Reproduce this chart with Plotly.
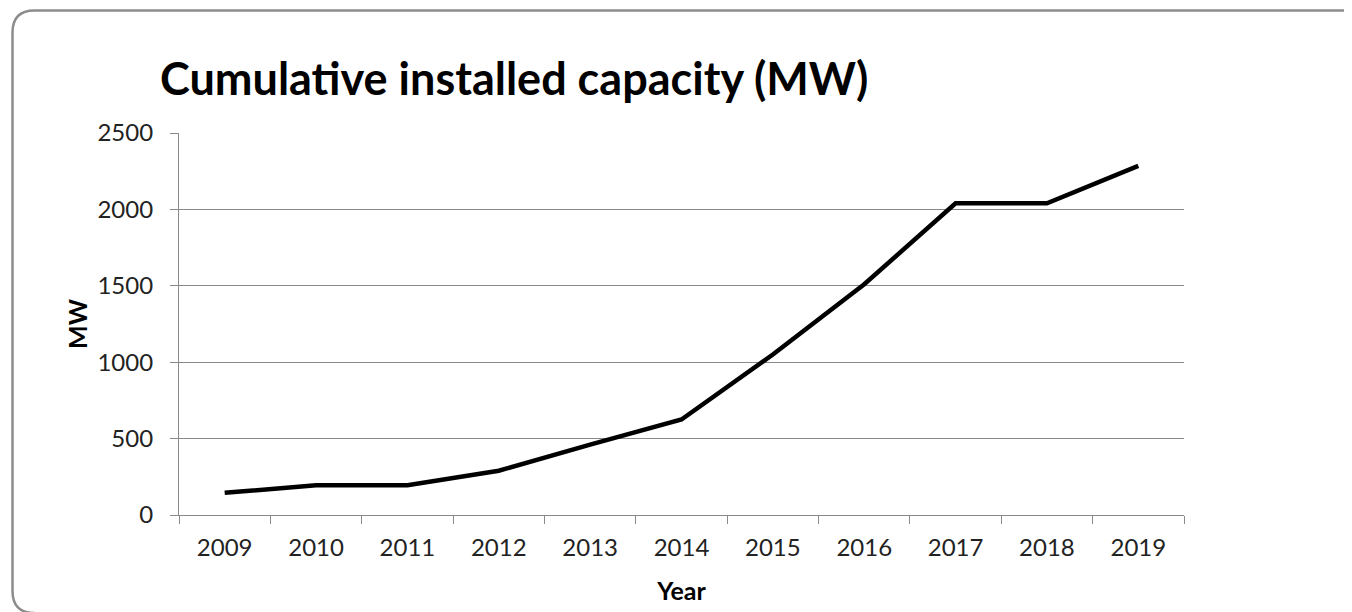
import plotly.graph_objects as go

years = ["2009", "2010", "2011", "2012", "2013", "2014", "2015", "2016", "2017", "2018", "2019"]
capacity_mw = [145, 195, 195, 290, 460, 625, 1050, 1510, 2040, 2040, 2285]
y_ticks = [0, 500, 1000, 1500, 2000, 2500]

title_text = "Cumulative installed capacity (MW)"
x_title = "Year"
y_title = "MW"

OFF = 8  # page body margin offset
W, H = 1352, 612
# desired page-pixel plot area: x 179..1184, y 133..515
ML = 179 - OFF
MT = 133 - OFF
MR = W - (1184 - OFF)
MB = H - (515 - OFF)
PW, PH = W - ML - MR, H - MT - MB


def px(x):
    return (x - OFF - ML) / PW


def py(y):
    return 1 - (y - OFF - MT) / PH


FONT = "Lato, 'Open Sans', sans-serif"
GRID = "#898989"
TXT = "#222222"

fig = go.Figure()
fig.add_trace(go.Scatter(
    x=years, y=capacity_mw, mode="lines",
    line=dict(color="#000000", width=4.5),
    hoverinfo="x+y", showlegend=False,
))

# rounded chart-area border (extends beyond right/bottom edges like the reference)
left, top, right, bottom, r = 12.5, 10.5, 1420, 613, 22
path = (
    f"M {px(right)},{py(top)} L {px(left + r)},{py(top)} "
    f"Q {px(left)},{py(top)} {px(left)},{py(top + r)} "
    f"L {px(left)},{py(bottom - r)} "
    f"Q {px(left)},{py(bottom)} {px(left + r)},{py(bottom)}"
)
fig.add_shape(type="path", path=path, xref="paper", yref="paper",
              line=dict(color="#8c8c8c", width=2.5), layer="below")

fig.add_annotation(text=f"<b>{title_text}</b>", xref="paper", yref="paper",
                   x=px(158), y=py(78), xanchor="left", yanchor="middle",
                   showarrow=False, font=dict(family=FONT, size=45, color="#000000"))

fig.update_layout(
    width=W, height=H,
    margin=dict(l=ML, r=MR, t=MT, b=MB, pad=0),
    paper_bgcolor="white", plot_bgcolor="white",
    font=dict(family=FONT, size=24, color=TXT),
    showlegend=False,
)
fig.update_xaxes(
    type="category", range=[-0.5, 10.5],
    showgrid=False, showline=True, linecolor=GRID, linewidth=1.2,
    ticks="outside", tickson="boundaries", ticklen=8, tickcolor=GRID, tickwidth=1.2,
    tickfont=dict(family=FONT, size=24, color=TXT), ticklabelstandoff=11,
    title=dict(text=f"<b>{x_title}</b>", font=dict(family=FONT, size=25, color="#000000"), standoff=22),
    zeroline=False,
)
fig.update_yaxes(
    range=[0, 2500], tickvals=y_ticks, ticktext=[str(v) for v in y_ticks],
    showgrid=True, gridcolor=GRID, gridwidth=1.2,
    showline=True, linecolor=GRID, linewidth=1.2,
    ticks="outside", ticklen=8, tickcolor=GRID, tickwidth=1.2,
    tickfont=dict(family=FONT, size=24, color=TXT), ticklabelstandoff=12,
    title=dict(text=f"<b>{y_title}</b>", font=dict(family=FONT, size=25, color="#000000"), standoff=2),
    zeroline=False,
)

fig.write_html("out.html")
